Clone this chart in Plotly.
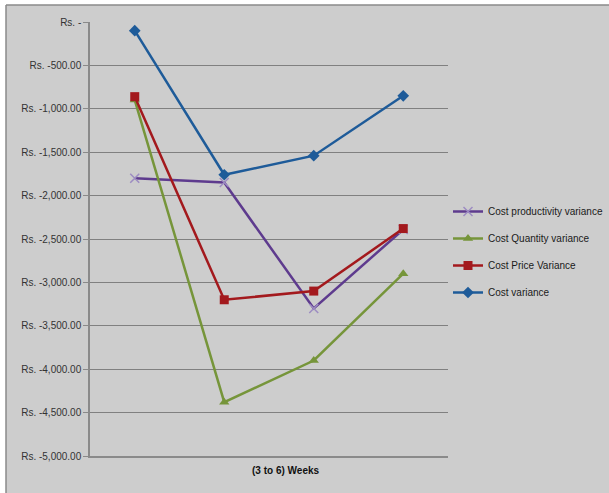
import plotly.graph_objects as go

categories = ["Week 3", "Week 4", "Week 5", "Week 6"]
productivity = [-1800, -1850, -3300, -2390]
quantity = [-900, -4380, -3900, -2900]
price = [-860, -3200, -3100, -2380]
cost_var = [-100, -1760, -1540, -850]

tick_vals = [0, -500, -1000, -1500, -2000, -2500, -3000, -3500, -4000, -4500, -5000]
tick_text = ["Rs. -", "Rs. -500.00", "Rs. -1,000.00", "Rs. -1,500.00", "Rs. -2,000.00",
             "Rs. -2,500.00", "Rs. -3,000.00", "Rs. -3,500.00", "Rs. -4,000.00",
             "Rs. -4,500.00", "Rs. -5,000.00"]

FONT = "Liberation Sans"
BG = "#cdcdcd"

series = [
    ("Cost productivity variance", productivity, "#5e3b8e", "#9d8cc2", "x-thin", 9),
    ("Cost Quantity variance", quantity, "#76953a", "#76953a", "triangle-up", 9),
    ("Cost Price Variance", price, "#a3191d", "#a3191d", "square", 9),
    ("Cost variance", cost_var, "#1e5b99", "#1e5b99", "diamond", 9),
]

fig = go.Figure()
for name, vals, lc, mc, sym, ms in series:
    fig.add_trace(go.Scatter(
        x=categories, y=vals, name=name, mode="lines+markers",
        legendgroup=name,
        line=dict(color=lc, width=2.5),
        marker=dict(symbol=sym, size=ms, color=mc,
                    line=dict(color=mc, width=1.5 if sym == "x-thin" else 0)),
    ))

W, H = 609, 493
L, R, T, B = 90, 448, 22, 456
pw, ph = R - L, B - T

def px(X):
    return (X - L) / pw

def py(Y):
    return (B - Y) / ph

border = dict(color="#8a8a8a", width=1.5)
fig.update_layout(
    width=W, height=H,
    margin=dict(l=L, r=W - R, t=T, b=H - B, pad=0, autoexpand=False),
    paper_bgcolor="white",
    plot_bgcolor=BG,
    font=dict(family=FONT, size=10, color="#333333"),
    showlegend=True,
    legend=dict(xref="container", yref="container",
                x=448 / W, xanchor="left", y=1 - 197 / H, yanchor="top",
                bgcolor="rgba(0,0,0,0)", font=dict(size=10, color="#1a1a1a"),
                itemwidth=30, tracegroupgap=8, traceorder="grouped"),
    shapes=[
        dict(type="rect", xref="paper", yref="paper", layer="below",
             x0=px(6), x1=px(700), y0=py(5), y1=py(600),
             fillcolor=BG, line=dict(width=0)),
        dict(type="line", xref="paper", yref="paper", layer="below",
             x0=px(6), x1=px(700), y0=py(5), y1=py(5), line=border),
        dict(type="line", xref="paper", yref="paper", layer="below",
             x0=px(6), x1=px(6), y0=py(5), y1=py(600), line=border),
    ],
    annotations=[
        dict(text="<b>(3 to 6) Weeks</b>", xref="paper", yref="paper",
             x=px(285), y=py(470), xanchor="center", yanchor="middle",
             showarrow=False,
             font=dict(size=10, color="#111111", family=FONT)),
    ],
)

fig.update_xaxes(
    type="category", range=[-0.5, 3.5], showticklabels=False,
    showgrid=False, showline=True, linecolor="#8a8a8a", linewidth=1.5,
    ticks="", zeroline=False,
)
fig.update_yaxes(
    range=[-5000, 0], tickvals=tick_vals, ticktext=tick_text,
    showgrid=True, gridcolor="#808080", gridwidth=1,
    showline=True, linecolor="#8a8a8a", linewidth=1.5,
    ticks="outside", ticklen=5, tickcolor="#8a8a8a",
    zeroline=False, tickfont=dict(size=10, color="#333333"),
)

fig.write_html("out.html")
